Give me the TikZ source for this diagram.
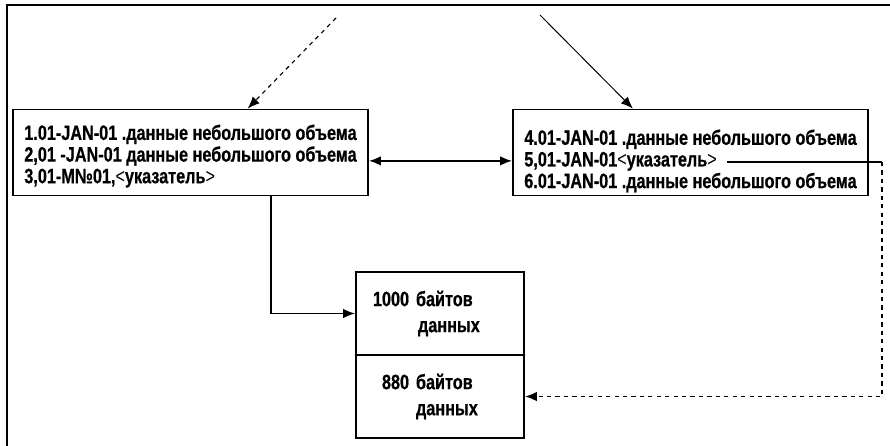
\documentclass[tikz,border=0pt]{standalone}
\usepackage{fontspec}
\setmainfont{Liberation Sans}[FakeStretch=0.78, BoldFeatures={FakeBold=0.6}]
\usetikzlibrary{positioning,arrows.meta,calc}
\newcommand{\lt}{\textmd{<}}
\newcommand{\gt}{\textmd{>}}

\begin{document}
\begin{tikzpicture}[x=0.025cm, y=-0.025cm,
  blk/.style={draw, line width=1.3pt, minimum width=8.875cm, minimum height=2.15cm, inner sep=0pt},
  lines/.style={align=left, inner sep=0pt, anchor=west, font=\bfseries\fontsize{14.8}{15.4}\selectfont},
  mem/.style={draw, line width=1.3pt, minimum width=4.2cm, minimum height=2.075cm, inner xsep=0.425cm,
    text width=3.35cm, align=left, font=\bfseries\fontsize{14.8}{18.5}\selectfont},
  conn/.style={line width=1.2pt, -{Latex[length=3mm, width=2.4mm]}}]
  \useasboundingbox (0,0) rectangle (890,446);
  % outer frame (top and left edge)
  \draw[line width=1.3pt] (890,5) -- (7,5) -- (7,446);
  % two record blocks
  \node[blk] (blkA) at (190.5,152.5) {};
  \node[blk] (blkB) at (690.5,152.5) {};
  \node[lines] (txtA) at ([xshift=0.3cm, yshift=-0.09cm]blkA.west)
    {1.01-JAN-01 .данные небольшого объема\\
     2,01 -JAN-01 данные небольшого объема\\
     3,01-M№01,\lt указатель\gt};
  \node[lines] (txtB) at ([xshift=0.3cm, yshift=-0.21cm]blkB.west)
    {4.01-JAN-01 .данные небольшого объема\\
     5,01-JAN-01\lt указатель\gt\\
     6.01-JAN-01 .данные небольшого объема};
  % overflow block, two parts
  \node[mem] (memA) at (440,313.5) {1000 байтов\\\hspace*{1.125cm}данных};
  \node[mem, below=-1.3pt of memA] (memB) {\hspace*{0.225cm}880 байтов\\\hspace*{1.075cm}данных};
  % incoming arrows from above
  \coordinate (srcA) at (336,18);
  \coordinate (srcB) at (540,15);
  \draw[conn, line width=0.8pt, dashed] (srcA) -- ([xshift=1.43cm]blkA.north);
  \draw[conn, line width=0.7pt] (srcB) -- ([xshift=-1.44cm]blkB.north);
  % link between blocks
  \draw[line width=1.2pt, {Latex[length=3mm, width=2.4mm]}-{Latex[length=3mm, width=2.4mm]}]
    ([yshift=-0.21cm]blkA.east) -- ([yshift=-0.21cm]blkB.west);
  % pointers to overflow block
  \draw[conn] ([xshift=2.01cm]blkA.south) |- (memA.west);
  \coordinate (ptr) at (727,162);
  \coordinate (turn) at (882,162);
  \draw[line width=1.2pt] (ptr) -- (turn);
  \draw[conn, dashed] (turn) |- (memB.east);
\end{tikzpicture}
\end{document}
